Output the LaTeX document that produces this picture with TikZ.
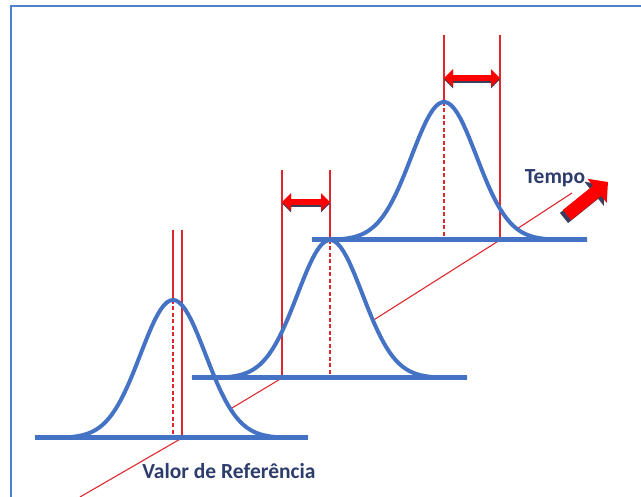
\documentclass[tikz,border=0pt]{standalone}
\usepackage{fontspec}
\setmainfont{Carlito}
\usetikzlibrary{arrows.meta}
\definecolor{curveblue}{RGB}{68,114,196}
\definecolor{refred}{RGB}{222,40,45}
\definecolor{frameblue}{RGB}{80,128,200}
\definecolor{labelblue}{RGB}{44,60,108}
\definecolor{shadegray}{RGB}{60,62,92}
\begin{document}
\begin{tikzpicture}[x=1pt,y=-1pt,
  bell/.style={curveblue,line width=4pt},
  axisline/.style={curveblue,line width=5pt},
  refline/.style={refred,line width=1.1pt},
  meanline/.style={refred,line width=1.2pt,dash pattern=on 4pt off 2.5pt},
  drift/.style={red,line width=6.5pt,{Triangle[length=9pt,width=17pt]}-{Triangle[length=9pt,width=17pt]}},
  driftshade/.style={drift,shadegray},
  bigarrow/.style={red,line width=13pt,-{Triangle[length=14pt,width=30pt]}},
  bigshade/.style={bigarrow,shadegray},
  txt/.style={font=\bfseries\fontsize{21.5}{26}\selectfont,text=labelblue,anchor=base}]
\useasboundingbox (0,0) rectangle (641,497);
\draw[frameblue,line width=2pt] (11,497) -- (11,6) -- (641,6);

% time axis through the reference values
\coordinate (t0) at (80,497);
\coordinate (r1) at (182,438);
\coordinate (r2) at (282,378);
\coordinate (r3) at (500,240);
\coordinate (t1) at (572,193);
\draw[refline] (t0) -- (r1) -- (r2) -- (r3) -- (t1);

% the three distributions
\foreach \yb/\xa/\xb/\mx/\rx/\ty/\n in {438/35/308/173/182/230/1, 378/192/467/330/282/170/2, 240/312/587/444/500/35/3} {
  \fill[white] plot[domain=\xa:\xb,samples=90] (\x,{\yb-138*exp(-((\x-\mx)/32.5)^2/2)}) -- cycle;
  \coordinate (peak\n) at (\mx,\yb-138);
  \draw[refline] (\mx,\ty) -- (peak\n);
  \draw[meanline] (peak\n) -- (\mx,\yb);
  \draw[refline] (\rx,\ty) -- (r\n);
  \draw[bell] plot[domain=\xa:\xb,samples=90] (\x,{\yb-138*exp(-((\x-\mx)/32.5)^2/2)});
  \draw[axisline] (\xa,\yb) -- (\xb,\yb);
}

% drift of the mean
\foreach \xa/\xb/\ay in {282/330/202, 444/500/78} {
  \draw[driftshade] (\xa,\ay+1.5) -- (\xb,\ay+1.5);
  \draw[drift] (\xa,\ay) -- (\xb,\ay);
}

\node[txt] (tempo) at (555,184) {Tempo};
\draw[bigshade] (564,218) -- (605,185);
\draw[bigarrow] (567,215) -- (608,182);
\node[txt] (valor) at (229,479) {Valor de Referência};
\end{tikzpicture}
\end{document}
